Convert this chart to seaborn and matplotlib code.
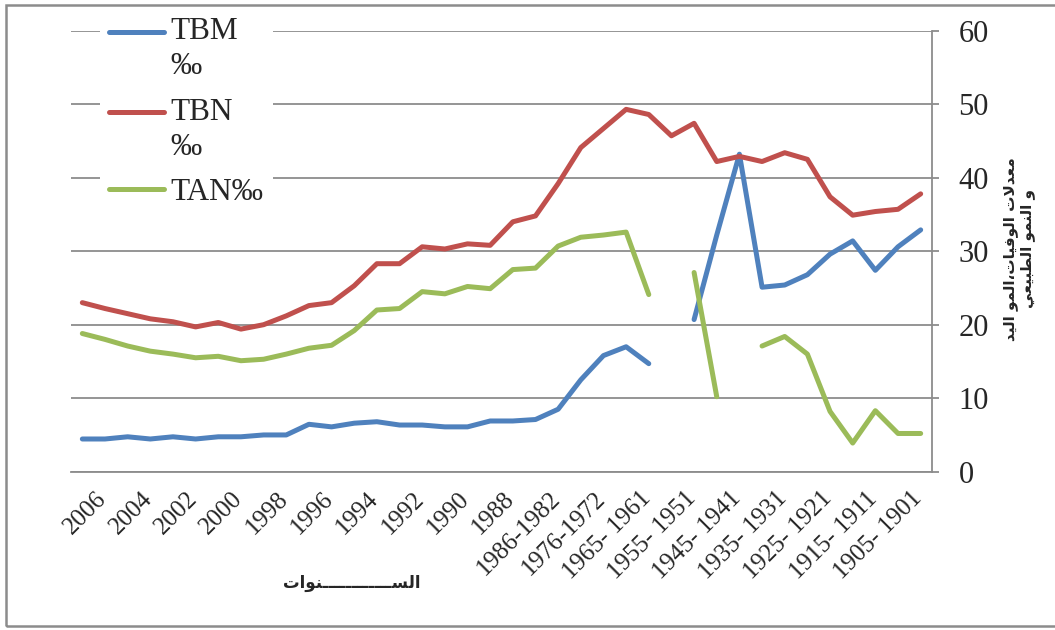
import numpy as np
import pandas as pd
import matplotlib
matplotlib.use("Agg")
import matplotlib.pyplot as plt
import matplotlib.transforms as mtransforms
from matplotlib.lines import Line2D
from matplotlib.patches import Rectangle
import seaborn as sns

nan = np.nan

# x tick labels, shown on every second category (2006 ... 1901)
tick_labels = ["2006", "2004", "2002", "2000", "1998", "1996", "1994", "1992",
               "1990", "1988", "1986-1982", "1976-1972", "1965- 1961",
               "1955- 1951", "1945- 1941", "1935- 1931", "1925- 1921",
               "1915- 1911", "1905- 1901"]

# rates per 1000, 38 categories from 2006 back to 1901
tbm = [4.45, 4.45, 4.75, 4.45, 4.75, 4.45, 4.75, 4.75, 5.0, 5.0,
       6.45, 6.1, 6.6, 6.8, 6.35, 6.35, 6.1, 6.1, 6.9, 6.9,
       7.1, 8.5, 12.5, 15.8, 17.0, 14.7, nan, 20.7, 32.2, 43.2,
       25.1, 25.4, 26.8, 29.6, 31.4, 27.4, 30.6, 32.9]
tbn = [23.0, 22.2, 21.5, 20.8, 20.4, 19.7, 20.3, 19.4, 20.0, 21.2,
       22.6, 23.0, 25.3, 28.3, 28.3, 30.6, 30.3, 31.0, 30.8, 34.0,
       34.8, 39.2, 44.1, 46.7, 49.3, 48.6, 45.7, 47.4, 42.2, 42.9,
       42.2, 43.4, 42.5, 37.4, 34.9, 35.4, 35.7, 37.8]
tan = [18.8, 18.0, 17.1, 16.4, 16.0, 15.5, 15.7, 15.1, 15.3, 16.0,
       16.8, 17.2, 19.2, 22.0, 22.2, 24.5, 24.2, 25.2, 24.9, 27.5,
       27.7, 30.7, 31.9, 32.2, 32.6, 24.1, nan, 27.1, 10.2, nan,
       17.1, 18.4, 16.0, 8.2, 3.9, 8.3, 5.2, 5.2]

series_names = ["TBM‰", "TBN‰", "TAN‰"]
legend_labels = ["TBM\n‰", "TBN\n‰", "TAN‰"]
colors = {"TBM‰": "#4F81BD", "TBN‰": "#C0504D", "TAN‰": "#9BBB59"}

ylabel_text = "معدلات الوفيات،المو اليد\nو النمو الطبيعي"
xlabel_text = "الســــــــــــنوات"

# arabic contextual forms (matplotlib does no shaping)
AR_FORMS = {
    "ا": ("\uFE8D", "\uFE8E", None, None),
    "ب": ("\uFE8F", "\uFE90", "\uFE91", "\uFE92"),
    "ت": ("\uFE95", "\uFE96", "\uFE97", "\uFE98"),
    "د": ("\uFEA9", "\uFEAA", None, None),
    "س": ("\uFEB1", "\uFEB2", "\uFEB3", "\uFEB4"),
    "ط": ("\uFEC1", "\uFEC2", "\uFEC3", "\uFEC4"),
    "ع": ("\uFEC9", "\uFECA", "\uFECB", "\uFECC"),
    "ف": ("\uFED1", "\uFED2", "\uFED3", "\uFED4"),
    "ل": ("\uFEDD", "\uFEDE", "\uFEDF", "\uFEE0"),
    "م": ("\uFEE1", "\uFEE2", "\uFEE3", "\uFEE4"),
    "ن": ("\uFEE5", "\uFEE6", "\uFEE7", "\uFEE8"),
    "و": ("\uFEED", "\uFEEE", None, None),
    "ي": ("\uFEF1", "\uFEF2", "\uFEF3", "\uFEF4"),
    "ـ": ("\u0640", "\u0640", "\u0640", "\u0640"),
    "لا": ("\uFEFB", "\uFEFC", None, None),
}


def shape_line(text):
    chars = []
    i = 0
    while i < len(text):
        if text[i] == "ل" and i + 1 < len(text) and text[i + 1] == "ا":
            chars.append("لا")
            i += 2
        else:
            chars.append(text[i])
            i += 1
    out = []
    for k, c in enumerate(chars):
        if c not in AR_FORMS:
            out.append(c)
            continue
        iso, fin, ini, med = AR_FORMS[c]
        prev = chars[k - 1] if k > 0 else None
        nxt = chars[k + 1] if k + 1 < len(chars) else None
        join_prev = prev in AR_FORMS and AR_FORMS[prev][2] is not None
        join_next = ini is not None and nxt in AR_FORMS
        if join_prev and join_next:
            out.append(med)
        elif join_prev:
            out.append(fin)
        elif join_next:
            out.append(ini)
        else:
            out.append(iso)
    return "".join(out)[::-1]


def shape(text):
    return "\n".join(shape_line(t) for t in text.split("\n"))


# long table, one unit per unbroken run so gaps stay open
rows = []
for name, vals in zip(series_names, [tbm, tbn, tan]):
    seg = 0
    for i, v in enumerate(vals):
        if np.isnan(v):
            seg += 1
            continue
        rows.append({"pos": i, "value": v, "serie": name, "seg": f"{name}-{seg}"})
df = pd.DataFrame(rows)

sns.set_style("white")
plt.rcParams["font.family"] = ["Liberation Serif", "DejaVu Sans"]

fig = plt.figure(figsize=(10.55, 6.3), dpi=100)
ax = fig.add_axes([71 / 1055, 1 - 471.7 / 630, 861 / 1055, 441 / 630])

sns.lineplot(data=df, x="pos", y="value", hue="serie", hue_order=series_names,
             units="seg", estimator=None, palette=colors, lw=3.6,
             solid_capstyle="round", solid_joinstyle="round", legend=False, ax=ax)

n = len(tbn)
ax.set_xlim(-0.5, n - 0.5)
ax.set_ylim(0, 60)
ax.set_yticks(range(0, 61, 10))
ax.yaxis.grid(True, color="#8c8c8c", lw=1.3)
ax.set_axisbelow(True)

for s in ["top", "left"]:
    ax.spines[s].set_visible(False)
for s in ["right", "bottom"]:
    ax.spines[s].set_color("#8c8c8c")
    ax.spines[s].set_linewidth(1.3)

ax.yaxis.tick_right()
ax.tick_params(axis="y", which="major", direction="out", length=5, width=1.3,
               color="#8c8c8c", labelsize=22, pad=14)

ax.set_xticks(range(0, n, 2))
ax.set_xticklabels(tick_labels)
ax.set_xticks(np.arange(-0.5, n, 1), minor=True)
ax.tick_params(axis="x", which="minor", direction="out", length=5, width=1.3,
               color="#8c8c8c")
ax.tick_params(axis="x", which="major", length=0, labelsize=18, pad=17)
shift = mtransforms.ScaledTranslation(0.21, 0, fig.dpi_scale_trans)
for lab in ax.get_xticklabels():
    lab.set_rotation(45)
    lab.set_ha("right")
    lab.set_va("center")
    lab.set_rotation_mode("anchor")
    lab.set_transform(lab.get_transform() + shift)

ax.set_xlabel(shape(xlabel_text), family=["DejaVu Sans"], fontweight="bold",
              fontsize=12, va="center")
ax.xaxis.set_label_coords(0.326, -0.252)

ax.yaxis.set_label_position("right")
ax.set_ylabel(shape(ylabel_text), family=["DejaVu Sans"], fontweight="bold",
              fontsize=11, linespacing=1.1, ha="center", multialignment="center")
ax.yaxis.set_label_coords(1.082, 0.505)

handles = [Line2D([], [], color=colors[s], lw=3.6, solid_capstyle="round")
           for s in series_names]
leg = ax.legend(handles, legend_labels, loc="upper left",
                bbox_to_anchor=(100 / 1055, 1 - 8 / 630),
                bbox_transform=fig.transFigure, frameon=True, fancybox=False,
                facecolor="white", edgecolor="none", framealpha=1,
                fontsize=22.5, handlelength=1.75, handletextpad=0.2,
                labelspacing=0.52, borderpad=0.3, borderaxespad=0)
for t in leg.get_texts():
    t.set_linespacing(1.27)
for h, lab in zip(leg.legend_handles, legend_labels):
    if "\n" in lab:
        h.set_ydata(np.asarray(h.get_ydata()) + 12.5)

# outer chart frame
fig.patches.append(Rectangle((6 / 1055, 4 / 630), 1.1, 621 / 630,
                             transform=fig.transFigure, fill=False,
                             edgecolor="#8c8c8c", lw=1.8))

fig.savefig("out.png", dpi=100)
